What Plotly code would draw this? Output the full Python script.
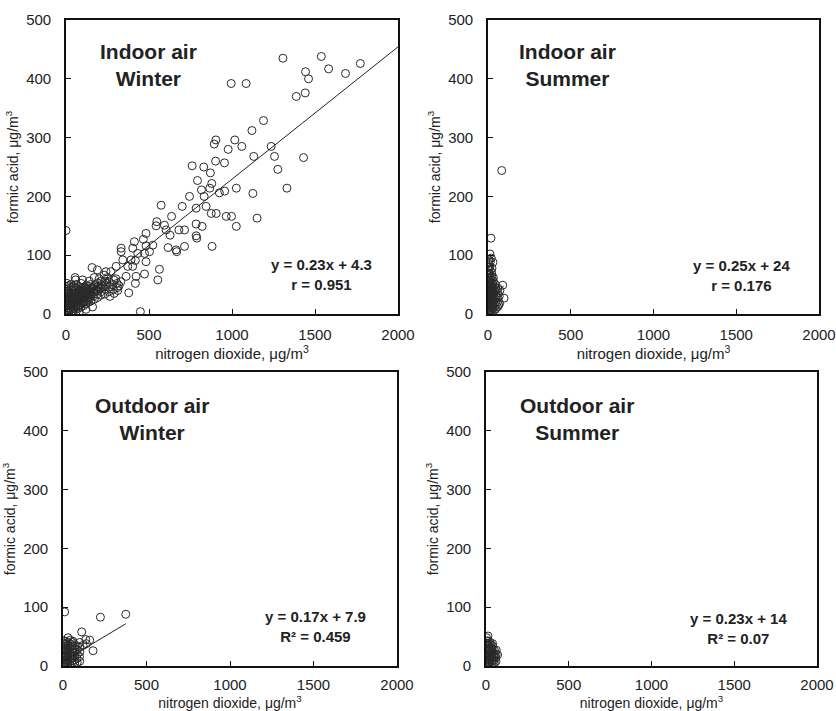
import plotly.graph_objects as go

# ---------------- data ----------------
# Indoor air, winter: outliers / clear circles
iw_x = [1307, 1538, 1582, 1684, 1773, 1443, 1461, 1441, 1387, 995, 1085, 1190, 1120, 1236,
        1131, 1256, 1276, 1331, 1431, 1017, 977, 1059, 903, 893, 901, 955, 760, 830, 870,
        878, 866, 792, 816, 832, 924, 956, 1026, 1126, 1151, 1026, 997, 965, 905, 875, 880,
        820, 784, 744, 700, 784, 844, 788, 784, 714, 680, 573, 636, 603, 547, 543, 627, 615,
        663, 714, 667, 593, 482, 466, 412, 402, 482, 523, 503, 332, 332, 432, 473, 418, 482,
        392, 402, 342, 302, 563, 553, 473, 418, 378, 448, 0, 157, 189, 241, 362, 422, 372]
iw_y = [435, 438, 417, 409, 426, 412, 400, 376, 370, 392, 392, 329, 312, 285,
        268, 268, 246, 214, 266, 296, 280, 285, 296, 289, 260, 257, 252, 250, 240,
        222, 214, 227, 211, 200, 206, 209, 214, 205, 163, 149, 166, 166, 171, 171, 115,
        149, 153, 200, 183, 180, 183, 129, 133, 143, 143, 185, 166, 143, 157, 150, 134, 113,
        109, 115, 106, 151, 137, 127, 123, 112, 116, 117, 106, 112, 106, 103, 103, 91, 89,
        92, 81, 92, 81, 76, 58, 68, 52, 36, 4, 142, 79, 75, 72, 64, 64, 81]
# Indoor air, winter: dense cluster near the origin
iw_cx = [3, 2, 4, 3, 5, 2, 4, 6, 3, 5, 2, 4, 6,
         15, 14, 16, 13, 17, 15, 14, 16, 18, 13, 15, 17,
         30, 28, 32, 29, 31, 27, 33, 30, 28, 32, 30, 29,
         45, 44, 47, 43, 46, 44, 48, 45, 43, 47, 45,
         60, 58, 62, 59, 61, 57, 63, 60, 58, 62, 60, 58,
         75, 73, 77, 74, 76, 72, 78, 75, 73, 76,
         90, 88, 92, 89, 91, 87, 93, 90, 88, 91,
         105, 103, 107, 104, 106, 102, 108, 105,
         120, 118, 122, 119, 121, 117, 123, 120,
         135, 133, 137, 134, 136, 132, 138,
         150, 148, 152, 149, 151, 147,
         170, 168, 172, 169, 171,
         190, 188, 192, 189, 191,
         210, 212, 208, 211,
         235, 232, 238, 234,
         260, 258, 262, 265,
         285, 282, 288, 290,
         310, 308, 312,
         170, 200, 230, 270, 250, 215, 300, 320, 330, 55, 100, 140, 40, 80, 120, 160, 60,
         22, 38, 52, 68, 82, 97, 112, 127, 142, 158, 180, 200, 222, 246]
iw_cy = [2, 6, 10, 14, 18, 22, 26, 30, 34, 38, 42, 47, 52,
         3, 7, 11, 15, 19, 23, 27, 31, 35, 39, 43, 48,
         4, 8, 12, 16, 20, 24, 28, 32, 36, 40, 45, 50,
         6, 10, 14, 18, 22, 26, 30, 34, 38, 42, 47,
         8, 12, 16, 20, 24, 28, 32, 36, 40, 44, 50, 58,
         10, 14, 18, 22, 26, 30, 34, 38, 42, 47,
         12, 16, 20, 24, 28, 32, 36, 40, 45, 52,
         14, 19, 23, 27, 31, 35, 40, 45,
         17, 22, 26, 30, 34, 38, 43, 48,
         20, 25, 29, 33, 37, 42, 47,
         22, 28, 33, 38, 43, 50,
         25, 31, 37, 43, 48,
         28, 34, 40, 46, 53,
         32, 38, 44, 50,
         34, 42, 48, 56,
         38, 46, 54, 30,
         42, 50, 58, 35,
         45, 52, 40,
         62, 60, 66, 72, 62, 56, 60, 48, 55, 62, 58, 56, 1, 3, 8, 12, 3,
         18, 25, 30, 33, 37, 40, 44, 36, 40, 45, 40, 44, 47, 52]

# Indoor air, summer
is_x = [83, 18, 12, 89, 97, 30, 20, 65,
        3, 2, 4, 3, 5, 2, 4, 3, 5, 2, 4, 3, 5, 2, 4, 3, 5, 2, 4, 3, 5,
        12, 11, 13, 12, 14, 11, 13, 12, 14, 11, 13, 12, 14, 11, 13, 12, 14, 11, 13,
        22, 21, 23, 22, 24, 21, 23, 22, 24, 21, 23, 22, 24, 21, 23, 22, 24,
        32, 31, 33, 32, 34, 31, 33, 32, 34, 31, 33, 32,
        45, 44, 46, 45, 47, 44, 46, 45,
        58, 57, 59, 58, 60,
        70, 68, 72]
is_y = [244, 129, 102, 49, 27, 88, 95, 15,
        2, 6, 10, 14, 18, 22, 26, 30, 34, 38, 42, 46, 50, 55, 60, 65, 70, 75, 80, 86, 92,
        3, 7, 11, 15, 19, 23, 27, 31, 35, 39, 43, 47, 52, 57, 62, 68, 74, 80, 88,
        4, 8, 12, 16, 20, 24, 28, 32, 36, 40, 44, 48, 53, 58, 64, 70, 78,
        5, 10, 15, 20, 25, 30, 35, 40, 45, 50, 56, 62,
        8, 14, 20, 26, 32, 38, 44, 50,
        12, 20, 28, 36, 44,
        18, 30, 40]

# Outdoor air, winter
ow_x = [10, 224, 376, 112, 160, 136, 180, 140, 120, 100, 30, 60,
        3, 2, 4, 3, 5, 2, 4, 3, 5, 2, 4,
        15, 14, 16, 15, 17, 14, 16, 15, 17, 14, 16,
        28, 27, 29, 28, 30, 27, 29, 28, 30, 27,
        42, 41, 43, 42, 44, 41, 43, 42, 44,
        56, 55, 57, 56, 58, 55, 57, 56,
        70, 69, 71, 70, 72, 69,
        85, 84, 86, 85, 87,
        100, 99, 101, 100]
ow_y = [92, 83, 88, 58, 44, 45, 26, 38, 35, 40, 48, 42,
        2, 6, 10, 14, 18, 22, 26, 30, 34, 38, 43,
        2, 6, 10, 14, 18, 22, 26, 30, 34, 38, 42,
        3, 7, 11, 15, 19, 23, 27, 31, 35, 40,
        3, 8, 13, 18, 23, 28, 33, 38, 44,
        4, 9, 14, 19, 24, 29, 34, 40,
        5, 11, 17, 23, 29, 35,
        6, 13, 20, 27, 34,
        8, 16, 24, 32]

# Outdoor air, summer
os_x = [12, 62, 70, 40,
        3, 2, 4, 3, 5, 2, 4, 3, 5, 2, 4, 3,
        14, 13, 15, 14, 16, 13, 15, 14, 16, 13, 15,
        26, 25, 27, 26, 28, 25, 27, 26, 28, 25,
        38, 37, 39, 38, 40, 37, 39,
        50, 49, 51, 50, 52,
        60, 59, 61]
os_y = [51, 27, 19, 38,
        2, 6, 10, 14, 18, 22, 26, 30, 34, 38, 43, 48,
        2, 6, 10, 14, 18, 22, 26, 30, 34, 38, 42,
        3, 7, 11, 15, 19, 23, 27, 31, 36, 40,
        4, 9, 14, 19, 24, 29, 34,
        5, 10, 15, 20, 26,
        8, 14, 20]

panel_titles = ["Indoor air<br>Winter", "Indoor air<br>Summer",
                "Outdoor air<br>Winter", "Outdoor air<br>Summer"]
equations = ["y = 0.23x + 4.3<br>r = 0.951", "y = 0.25x + 24<br>r = 0.176",
             "y = 0.17x + 7.9<br>R² = 0.459", "y = 0.23x + 14<br>R² = 0.07"]
slopes = [0.225, 0.25, 0.17, 0.23]
intercepts = [4.3, 24, 7.9, 14]
fit_x_range = [(0, 2000), (0, 95), (0, 376), (0, 60)]
x_ticks = [0, 500, 1000, 1500, 2000]
y_ticks = [0, 100, 200, 300, 400, 500]

# ---------------- layout geometry ----------------
W, H = 836, 711
boxes = [(66, 398, 20, 314), (488, 819, 20, 314), (63, 397, 372, 666), (486, 817, 372, 666)]
title_pos = [(494, 423), (483, 423), (533, 420), (550, 420)]
eq_pos = [(1541, 68), (1534, 65), (1509, 68), (1528, 63)]
x_label_standoff = [6, 6, 4, 4]
x_title_size = [15, 15, 14, 14]

FONT = "Arial, Liberation Sans, Helvetica, sans-serif"
fig = go.Figure()

pts = [(iw_x + iw_cx, iw_y + iw_cy), (is_x, is_y), (ow_x, ow_y), (os_x, os_y)]
layout = {}
for i, (x0, x1, y0, y1) in enumerate(boxes):
    n = "" if i == 0 else str(i + 1)
    xa, ya = "x" + n, "y" + n
    px, py = pts[i]
    fig.add_trace(go.Scatter(x=px, y=py, mode="markers", xaxis=xa, yaxis=ya,
                             marker=dict(symbol="circle-open", size=8, color="#2a2a2a",
                                         line=dict(width=1, color="#2a2a2a")),
                             showlegend=False, hoverinfo="x+y"))
    fx = list(fit_x_range[i])
    fy = [slopes[i] * v + intercepts[i] for v in fx]
    fig.add_trace(go.Scatter(x=fx, y=fy, mode="lines", xaxis=xa, yaxis=ya,
                             line=dict(color="#222", width=1), showlegend=False,
                             hoverinfo="skip"))
    common = dict(showgrid=False, zeroline=False, showline=True, linecolor="#111",
                  linewidth=1.6, mirror=True, ticks="inside", ticklen=5, tickwidth=1.2,
                  tickcolor="#111", automargin=False,
                  tickfont=dict(family=FONT, size=15, color="#222"))
    layout["xaxis" + n] = dict(domain=[x0 / W, x1 / W], range=[0, 2000], tickvals=x_ticks,
                               anchor=ya, ticklabelstandoff=x_label_standoff[i],
                               title=dict(text="nitrogen dioxide, μg/m<sup>3</sup>",
                                          font=dict(family=FONT, size=x_title_size[i],
                                                    color="#222"),
                                          standoff=2), **common)
    layout["yaxis" + n] = dict(domain=[1 - y1 / H, 1 - y0 / H], range=[0, 500],
                               tickvals=y_ticks, anchor=xa, ticklabelstandoff=10,
                               title=dict(text="formic acid, μg/m<sup>3</sup>",
                                          font=dict(family=FONT, size=14, color="#222"),
                                          standoff=4), **common)

annotations = []
for i in range(4):
    n = "" if i == 0 else str(i + 1)
    annotations.append(dict(x=title_pos[i][0], y=title_pos[i][1], xref="x" + n, yref="y" + n,
                            text="<b>" + panel_titles[i] + "</b>", showarrow=False,
                            font=dict(family=FONT, size=21, color="#222"), align="center"))
    annotations.append(dict(x=eq_pos[i][0], y=eq_pos[i][1], xref="x" + n, yref="y" + n,
                            text="<b>" + equations[i] + "</b>", showarrow=False,
                            font=dict(family=FONT, size=15, color="#222"), align="center"))

fig.update_layout(width=W, height=H,
                  margin=dict(l=0, r=0, t=0, b=0, pad=0, autoexpand=False),
                  paper_bgcolor="white", plot_bgcolor="white",
                  annotations=annotations, **layout)
fig.write_html("out.html")
